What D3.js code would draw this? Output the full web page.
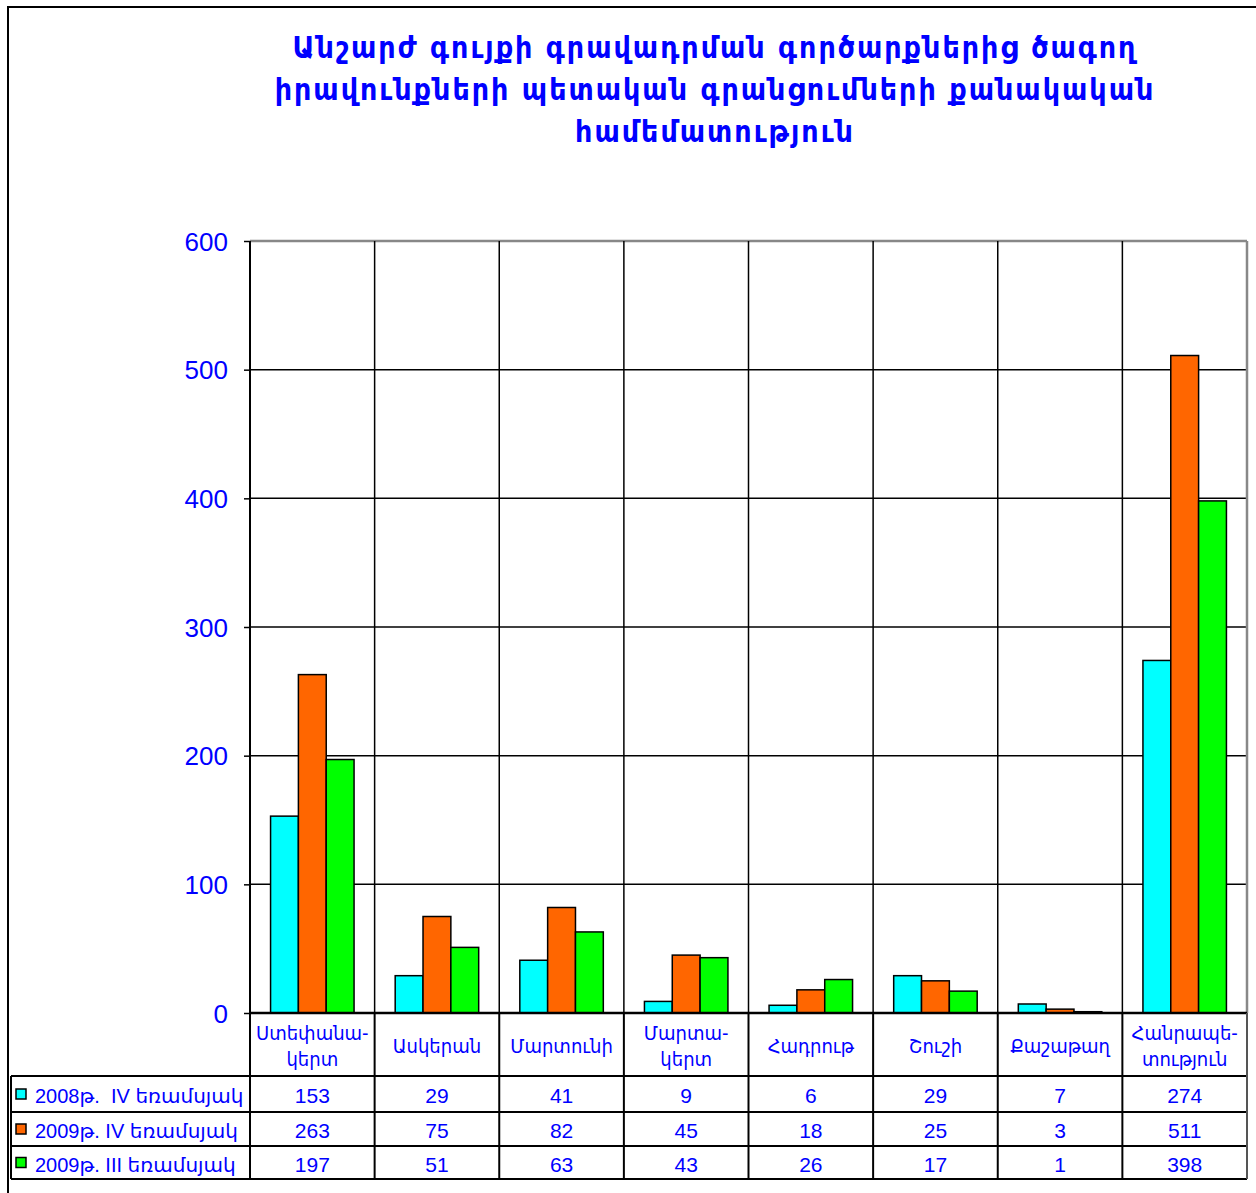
<!DOCTYPE html>
<html><head><meta charset="utf-8">
<script src="https://cdn.jsdelivr.net/npm/d3@7"></script>
<style>body{margin:0;background:#fff}</style>
</head><body><svg id="c" width="1256" height="1193"></svg>
<script>
const titleLines = ["Անշարժ գույքի գրավադրման գործարքներից ծագող","իրավունքների պետական գրանցումների քանակական","համեմատություն"];
const categories = [["Ստեփանա-","կերտ"],["Ասկերան"],["Մարտունի"],["Մարտա-","կերտ"],["Հադրութ"],["Շուշի"],["Քաշաթաղ"],["Հանրապե-","տություն"]];
const seriesNames = ["2008թ.  IV եռամսյակ","2009թ. IV եռամսյակ","2009թ. III եռամսյակ"];
const seriesColors = ["#00FFFF","#FF6600","#00FF00"];
const s2008q4 = [153,29,41,9,6,29,7,274];
const s2009q4 = [263,75,82,45,18,25,3,511];
const s2009q3 = [197,51,63,43,26,17,1,398];
const yTicks = [0,100,200,300,400,500,600];
const series = [s2008q4,s2009q4,s2009q3];

const svg = d3.select("#c");
const blue = "#0000FF";
const L=250, R=1247, T=241, B=1013;
const catIdx = d3.range(categories.length);
const x = d3.scaleBand().domain(catIdx).range([L,R]).padding(0);
const bw = x.bandwidth();
const xs = d3.scaleBand().domain([0,1,2]).range([bw*0.165, bw*0.835]).padding(0);
const y = d3.scaleLinear().domain([0,600]).range([B,T]);

// outer frame
svg.append("rect").attr("x",8).attr("y",7).attr("width",1260).attr("height",1200)
  .attr("fill","none").attr("stroke","#000").attr("stroke-width",2);

// title
svg.append("g").selectAll("text").data(titleLines).join("text")
  .attr("x",715).attr("y",(d,i)=>58+i*42).attr("text-anchor","middle")
  .attr("font-family","DejaVu Sans Condensed, DejaVu Sans").attr("font-weight","bold").attr("font-size",30)
  .attr("letter-spacing",2)
  .attr("fill",blue).text(d=>d);

// horizontal gridlines
svg.append("g").selectAll("line").data(yTicks.filter(t=>t>0)).join("line")
  .attr("x1",L).attr("x2",R).attr("y1",d=>y(d)).attr("y2",d=>y(d))
  .attr("stroke",d=>d===600?"#888":"#000").attr("stroke-width",d=>d===600?2.5:1.5);

// vertical category lines in plot
svg.append("g").selectAll("line").data(d3.range(categories.length+1)).join("line")
  .attr("x1",i=>i<categories.length?x(i):R).attr("x2",i=>i<categories.length?x(i):R)
  .attr("y1",T).attr("y2",B)
  .attr("stroke",i=>i===categories.length?"#888":"#000").attr("stroke-width",i=>i===categories.length?2.5:1.5);

// y axis
const ya = d3.axisLeft(y).tickValues(yTicks).tickSize(6).tickPadding(16);
const yg = svg.append("g").attr("transform",`translate(${L},0)`).call(ya);
yg.select(".domain").remove();
yg.selectAll(".tick line").attr("stroke","#000").attr("stroke-width",1.5);
yg.selectAll(".tick text").attr("font-family","Liberation Sans, Arial").attr("font-size",26).attr("fill",blue).attr("dy","0.35em");
svg.append("line").attr("x1",L).attr("x2",L).attr("y1",T).attr("y2",B).attr("stroke","#000").attr("stroke-width",2);

// bars
series.forEach((vals,si)=>{
  svg.append("g").selectAll("rect").data(vals).join("rect")
    .attr("x",(d,i)=>x(i)+xs(si)).attr("width",xs.bandwidth())
    .attr("y",d=>y(d)).attr("height",d=>B-y(d))
    .attr("fill",seriesColors[si]).attr("stroke","#000").attr("stroke-width",1.5);
});

// table
const rowY = [B,1076,1112,1146,1179];
const tg = svg.append("g");
const lineC = "#000";
tg.append("line").attr("x1",L).attr("x2",R).attr("y1",B).attr("y2",B).attr("stroke",lineC).attr("stroke-width",2.5);
[1076,1112,1146,1179].forEach(yy=>{
  tg.append("line").attr("x1",11).attr("x2",R).attr("y1",yy).attr("y2",yy).attr("stroke",lineC).attr("stroke-width",2);
});
d3.range(categories.length+1).forEach(i=>{
  const xx = i<categories.length?x(i):R;
  tg.append("line").attr("x1",xx).attr("x2",xx).attr("y1",B).attr("y2",1179).attr("stroke",i===categories.length?"#555":lineC).attr("stroke-width",2);
});
tg.append("line").attr("x1",11).attr("x2",11).attr("y1",1076).attr("y2",1179).attr("stroke",lineC).attr("stroke-width",2);

// category labels
categories.forEach((lines,i)=>{
  const cx = x(i)+bw/2;
  const midY = (B+1076)/2;
  const t = tg.append("text").attr("text-anchor","middle")
    .attr("font-family","DejaVu Sans Condensed, DejaVu Sans").attr("font-size",20).attr("fill",blue);
  lines.forEach((ln,k)=>{
    t.append("tspan").attr("x",cx)
      .attr("y", midY + 8 + (k - (lines.length-1)/2)*26).text(ln);
  });
});

// legend and values
series.forEach((vals,si)=>{
  const y0 = rowY[si+1], y1 = rowY[si+2], cy=(y0+y1)/2;
  tg.append("rect").attr("x",16).attr("y",cy-5).attr("width",10).attr("height",10)
    .attr("fill",seriesColors[si]).attr("stroke","#000").attr("stroke-width",1.5);
  tg.append("text").attr("x",35).attr("y",cy+9).attr("font-family","Liberation Sans, DejaVu Sans").attr("font-size",20)
    .style("white-space","pre")
    .attr("fill",blue).text(seriesNames[si]);
  tg.append("g").selectAll("text").data(vals).join("text")
    .attr("x",(d,i)=>x(i)+bw/2).attr("y",cy+9).attr("text-anchor","middle")
    .attr("font-family","Liberation Sans, Arial").attr("font-size",21).attr("fill",blue).text(d=>d);
});
</script></body></html>
